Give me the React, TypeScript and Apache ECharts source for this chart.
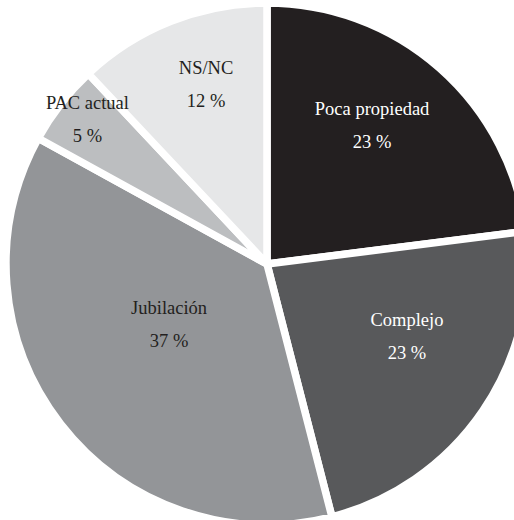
import React, { useEffect, useRef } from "react";
import * as echarts from "echarts";

const categories = ["Poca propiedad", "Complejo", "Jubilación", "PAC actual", "NS/NC"];
const values = [23, 23, 37, 5, 12];
const colors = ["#231f20", "#58595b", "#939598", "#bcbec0", "#e6e7e8"];
const labelColors = ["#ffffff", "#ffffff", "#231f20", "#231f20", "#231f20"];
const labelRadiusFactor = [0.666, 0.604, 0.44, 0.884, 0.725];
const labelAngleShift = [-4.2, -6.8, 6.3, 1.1, 2.8];

const CX = 267;
const CY = 264;
const R = 261;

export default function App() {
  const ref = useRef<HTMLDivElement>(null);
  useEffect(() => {
    if (!ref.current) return;
    const chart = echarts.init(ref.current, null, { renderer: "svg" });
    const total = values.reduce((a, b) => a + b, 0);
    const cum: number[] = [];
    let acc = 0;
    values.forEach((v) => {
      cum.push(acc);
      acc += v;
    });
    chart.setOption({
      animation: false,
      backgroundColor: "#ffffff",
      series: [
        {
          type: "pie",
          center: [CX, CY],
          radius: [0, R],
          startAngle: 90,
          clockwise: true,
          avoidLabelOverlap: false,
          itemStyle: { borderColor: "#ffffff", borderWidth: 7.5 },
          label: {
            show: true,
            position: "inside",
            formatter: "{b}\n{c} %",
            fontFamily: "Liberation Serif, serif",
            fontSize: 18.5,
            lineHeight: 33,
            align: "center",
          },
          labelLine: { show: false },
          labelLayout: (params: any) => {
            const i = params.dataIndex;
            const mid = ((cum[i] + values[i] / 2) / total) * 360 + labelAngleShift[i];
            const a = (mid * Math.PI) / 180;
            const r = labelRadiusFactor[i] * R;
            return {
              x: CX + r * Math.sin(a),
              y: CY - r * Math.cos(a),
              align: "center",
              verticalAlign: "middle",
            };
          },
          data: categories.map((name, i) => ({
            name,
            value: values[i],
            itemStyle: { color: colors[i] },
            label: { color: labelColors[i], fontFamily: "Liberation Serif, serif" },
          })),
        },
      ],
    });
    return () => chart.dispose();
  }, []);
  return (
    <div
      ref={ref}
      style={{ position: "absolute", left: 0, top: 0, width: 514, height: 520 }}
    />
  );
}
